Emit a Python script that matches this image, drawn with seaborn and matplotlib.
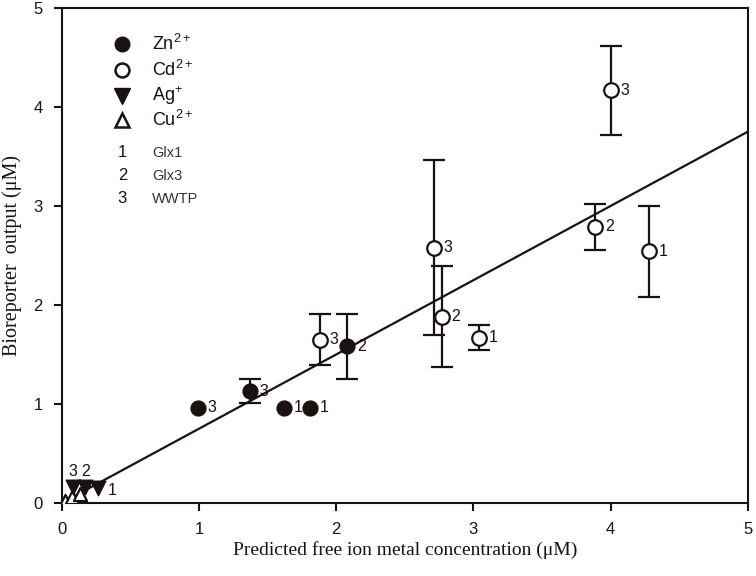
import matplotlib
matplotlib.use("Agg")
import matplotlib.pyplot as plt
import seaborn as sns
import numpy as np
import pandas as pd

# ---------------- data ----------------
zn_x = [0.99, 1.37, 1.62, 1.81, 2.08]
zn_y = [0.96, 1.13, 0.96, 0.96, 1.58]
zn_err = [0.0, 0.12, 0.0, 0.0, 0.33]
zn_lab = ["3", "3", "1", "1", "2"]

cd_x = [1.88, 2.71, 2.77, 3.04, 3.89, 4.00, 4.28]
cd_y = [1.65, 2.58, 1.88, 1.67, 2.79, 4.17, 2.54]
cd_err = [0.26, 0.88, 0.51, 0.13, 0.23, 0.45, 0.46]
cd_lab = ["3", "3", "2", "1", "2", "3", "1"]

ag_x = [0.08, 0.17, 0.26]
ag_y = [0.16, 0.16, 0.15]
ag_lab = ["3", "2", "1"]

cu_x = [0.02, 0.07, 0.13]
cu_y = [0.02, 0.06, 0.09]

fit_slope = 0.75
fit_intercept = 0.0
fit_x = [0.0, 5.0]

legend_metals = ["Zn$^{2+}$", "Cd$^{2+}$", "Ag$^{+}$", "Cu$^{2+}$"]
legend_sites_num = ["1", "2", "3"]
legend_sites = ["Glx1", "Glx3", "WWTP"]

xticks = [0, 1, 2, 3, 4, 5]
yticks = [0, 1, 2, 3, 4, 5]

# ---------------- style ----------------
sns.set_theme(style="white")
plt.rcParams["font.family"] = ["Liberation Sans", "DejaVu Sans"]
plt.rcParams["mathtext.fontset"] = "custom"
plt.rcParams["mathtext.rm"] = "Liberation Sans"
plt.rcParams["mathtext.it"] = "Liberation Sans:italic"
plt.rcParams["mathtext.bf"] = "Liberation Sans:bold"

INK = "#1a1111"
fig = plt.figure(figsize=(7.56, 5.76), dpi=100)
ax = fig.add_axes([0.082, 0.127, 0.907, 0.859])

# fit line
fit_df = pd.DataFrame({"x": fit_x, "y": [fit_slope * v + fit_intercept for v in fit_x]})
sns.lineplot(data=fit_df, x="x", y="y", ax=ax, color=INK, lw=1.6, zorder=2)

# error bars
for xs, ys, es in [(zn_x, zn_y, zn_err), (cd_x, cd_y, cd_err)]:
    for x, y, e in zip(xs, ys, es):
        if e > 0:
            ax.errorbar(x, y, yerr=e, fmt="none", ecolor=INK, elinewidth=1.6,
                        capsize=8, capthick=1.6, zorder=3)

ms = 110
sns.scatterplot(x=zn_x, y=zn_y, ax=ax, marker="o", s=ms, color=INK,
                edgecolor=INK, linewidth=1.2, zorder=5)
sns.scatterplot(x=cd_x, y=cd_y, ax=ax, marker="o", s=ms, facecolor="white",
                edgecolor=INK, linewidth=1.6, zorder=5)
sns.scatterplot(x=cu_x, y=cu_y, ax=ax, marker="^", s=90, facecolor="white",
                edgecolor=INK, linewidth=1.6, zorder=4)
sns.scatterplot(x=ag_x, y=ag_y, ax=ax, marker="v", s=110, color=INK,
                edgecolor=INK, linewidth=1.0, zorder=5)

# point labels
lab_fs = 11.5
for xs, ys, ls in [(zn_x, zn_y, zn_lab), (cd_x, cd_y, cd_lab)]:
    for x, y, l in zip(xs, ys, ls):
        ax.annotate(l, (x, y), xytext=(7, 0), textcoords="offset points",
                    ha="left", va="center", fontsize=lab_fs, color=INK)
ag_place = ["above", "above", "right"]
for x, y, l, p in zip(ag_x, ag_y, ag_lab, ag_place):
    if p == "above":
        ax.annotate(l, (x, y), xytext=(0, 6), textcoords="offset points",
                    ha="center", va="bottom", fontsize=lab_fs, color=INK)
    else:
        ax.annotate(l, (x, y), xytext=(7, -2), textcoords="offset points",
                    ha="left", va="center", fontsize=lab_fs, color=INK)

# manual legend
tr = ax.transAxes
mk_x, tx_x = 0.088, 0.131
leg_y = [0.927, 0.875, 0.822, 0.774]
styles = [dict(marker="o", ms=10.5, mfc=INK, mec=INK),
          dict(marker="o", ms=10, mfc="white", mec=INK, mew=1.8),
          dict(marker="v", ms=11, mfc=INK, mec=INK),
          dict(marker="^", ms=9.5, mfc="white", mec=INK, mew=1.8)]
for yy, st, lab in zip(leg_y, styles, legend_metals):
    ax.plot([mk_x], [yy], transform=tr, ls="none", clip_on=False, **st)
    ax.text(tx_x, yy, lab, transform=tr, fontsize=13, va="center", ha="left", color=INK)
site_y = [0.708, 0.661, 0.615]
for yy, n, lab in zip(site_y, legend_sites_num, legend_sites):
    ax.text(mk_x, yy, n, transform=tr, fontsize=12, va="center", ha="center", color=INK)
    ax.text(tx_x, yy, lab, transform=tr, fontsize=10.5, va="center", ha="left", color="#333333")

ax.set_xlim(0, 5)
ax.set_ylim(0, 5)
ax.set_xticks(xticks)
ax.set_yticks(yticks)
ax.tick_params(direction="out", length=6, width=1.5, colors=INK, labelsize=12,
               bottom=True, left=True, pad=8)
for s in ax.spines.values():
    s.set_visible(True)
    s.set_color(INK)
    s.set_linewidth(1.5)

serif = ["Liberation Serif", "DejaVu Serif"]
ax.set_xlabel("Predicted free ion metal concentration (\u03bcM)", fontsize=14,
              family=serif, color=INK, labelpad=3)
ax.set_ylabel("Bioreporter  output (\u03bcM)", fontsize=14.5, family=serif,
              color=INK, labelpad=8)

fig.savefig("out.png", dpi=100)
